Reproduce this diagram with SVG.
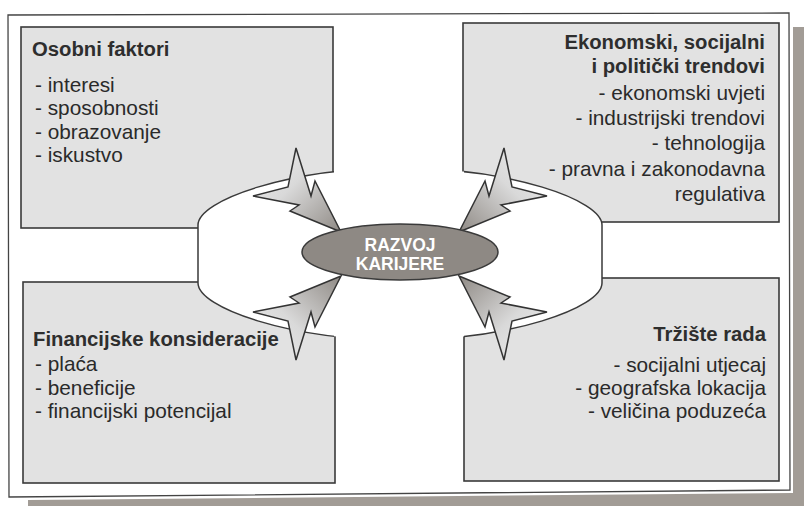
<svg xmlns="http://www.w3.org/2000/svg" width="804" height="506" viewBox="0 0 804 506">
  <defs>
    <style>
      .box { fill: #e2e2e2; stroke: #3a3a3a; stroke-width: 1.6; }
      .head { font-family: "Liberation Sans", Arial, sans-serif; font-weight: bold; font-size: 20.3px; fill: #2e2e2e; }
      .item { font-family: "Liberation Sans", Arial, sans-serif; font-size: 20.8px; fill: #2a2a2a; }
      .end { text-anchor: end; }
      .ctr { font-family: "Liberation Sans", Arial, sans-serif; font-weight: bold; font-size: 17.5px; fill: #ffffff; text-anchor: middle; }
      .arrow { fill: url(#arrowGrad); stroke: #333333; stroke-width: 1.5; stroke-linejoin: miter; }
    </style>
    <linearGradient id="arrowGrad" x1="0" y1="0" x2="1" y2="1">
      <stop offset="0" stop-color="#f0f0f0"/>
      <stop offset="0.45" stop-color="#d9d9d9"/>
      <stop offset="1" stop-color="#8f8a85"/>
    </linearGradient>
    <clipPath id="sideClip">
      <rect x="0" y="0" width="334" height="506"/>
      <rect x="464" y="0" width="340" height="506"/>
    </clipPath>
    <path id="bigShape" d="M400,168 C510,168 602,200 602,225 L602,283 C602,308 510,340 400,340 C290,340 198,308 198,283 L198,225 C198,200 290,168 400,168 Z"/>
    <polygon id="arrowShape" points="296,148 311,196 315,181 341,232 290,211 299,205 253,196 288,187"/>
  </defs>

  <rect x="0" y="0" width="804" height="506" fill="#ffffff"/>

  <g id="frame">
    <polygon points="793,27 804,27 804,506 28,506 28,500 793,493" fill="#a29c96"/>
    <polygon points="8,15 789,13 790,490 9,497" fill="#ffffff" stroke="#444444" stroke-width="1.3"/>
  </g>

  <g id="box-osobni"><rect class="box" x="21" y="27" width="312" height="201"/></g>
  <g id="box-ekonomski"><rect class="box" x="463" y="23" width="316" height="199"/></g>
  <g id="box-financijske"><rect class="box" x="23" y="282" width="312" height="201"/></g>
  <g id="box-trziste"><rect class="box" x="464" y="278" width="315" height="203"/></g>

  <g id="callout-ellipse">
    <use href="#bigShape" fill="#ffffff" stroke="none"/>
    <use href="#bigShape" fill="none" stroke="#3a3a3a" stroke-width="1.5" clip-path="url(#sideClip)"/>
  </g>

  <g id="connectors">
    <use href="#arrowShape" class="arrow"/>
    <use href="#arrowShape" class="arrow" transform="translate(800,0) scale(-1,1)"/>
    <use href="#arrowShape" class="arrow" transform="translate(0,508) scale(1,-1)"/>
    <use href="#arrowShape" class="arrow" transform="translate(800,508) scale(-1,-1)"/>
  </g>

  <g id="node-razvoj">
    <ellipse cx="400" cy="252" rx="98" ry="28" fill="#8e8984" stroke="#3a3a3a" stroke-width="1.5"/>
    <text class="ctr" x="400" y="251">RAZVOJ</text>
    <text class="ctr" x="400" y="270">KARIJERE</text>
  </g>

  <g id="node-osobni">
    <text class="head" x="32" y="56">Osobni faktori</text>
    <text class="item" x="35" y="92">- interesi</text>
    <text class="item" x="35" y="115">- sposobnosti</text>
    <text class="item" x="35" y="139">- obrazovanje</text>
    <text class="item" x="35" y="162">- iskustvo</text>
  </g>

  <g id="node-ekonomski">
    <text class="head end" x="765" y="49">Ekonomski, socijalni</text>
    <text class="head end" x="765" y="73">i politički trendovi</text>
    <text class="item end" x="765" y="100">- ekonomski uvjeti</text>
    <text class="item end" x="765" y="125">- industrijski trendovi</text>
    <text class="item end" x="765" y="150">- tehnologija</text>
    <text class="item end" x="765" y="175.5">- pravna i zakonodavna</text>
    <text class="item end" x="765" y="201">regulativa</text>
  </g>

  <g id="node-financijske">
    <text class="head" x="33" y="346">Financijske konsideracije</text>
    <text class="item" x="35" y="371">- plaća</text>
    <text class="item" x="35" y="395">- beneficije</text>
    <text class="item" x="35" y="418">- financijski potencijal</text>
  </g>

  <g id="node-trziste">
    <text class="head end" x="766" y="341">Tržište rada</text>
    <text class="item end" x="766" y="372">- socijalni utjecaj</text>
    <text class="item end" x="766" y="395">- geografska lokacija</text>
    <text class="item end" x="766" y="418">- veličina poduzeća</text>
  </g>
</svg>
